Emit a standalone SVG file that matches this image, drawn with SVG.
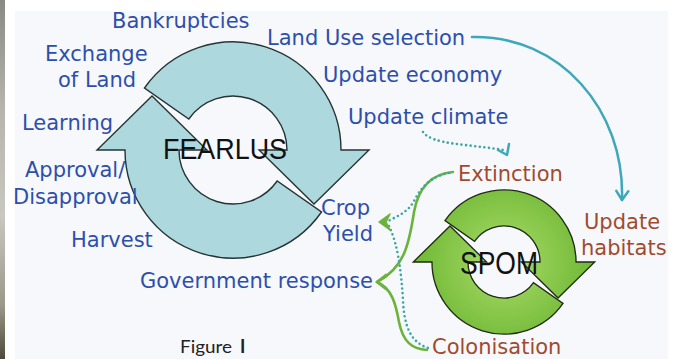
<svg xmlns="http://www.w3.org/2000/svg" width="683" height="359" viewBox="0 0 683 359">
  <style>
    .lbl{font-family:"DejaVu Sans","Liberation Sans",sans-serif;font-size:21px;fill:#2d4fac}
    .eco{font-family:"DejaVu Sans","Liberation Sans",sans-serif;font-size:21px;fill:#a04b2e}
    .core{font-family:"Liberation Sans",Arial,sans-serif;fill:#111}
    .cap{font-family:Lato,"Open Sans","Liberation Sans",sans-serif;font-size:18px;fill:#222}
    .fear{fill:#acd8de;stroke:#263333;stroke-width:1.4;stroke-linejoin:miter}
    .spom{fill:url(#spomFill);stroke:#1f2a12;stroke-width:2;stroke-linejoin:miter}
    .teal{fill:none;stroke:#3ea8ba;stroke-width:2.5;stroke-linecap:round;stroke-linejoin:round}
    .dots{fill:none;stroke:#3aa6a4;stroke-width:2.6;stroke-linecap:round;stroke-dasharray:0 4.6}
    .brace{fill:none;stroke:#6cb33e;stroke-width:2.6;stroke-linecap:round;stroke-linejoin:round}
  </style>
  <defs>
    <!-- half-ring arrows of a cycle, centred on 0,0, outer radius 108, inner 54 -->
    <path id="arcTop" d="M -88.5 -62 A 108 108 0 0 1 108 0 L 136 0 L 81 54 L 26 0 L 54 0 A 54 54 0 0 0 -44.2 -31 Z"/>
    <path id="arcBottom" d="M 88.5 62 A 108 108 0 0 1 -108 0 L -136 0 L -81 -54 L -26 0 L -54 0 A 54 54 0 0 0 44.2 31 Z"/>
    <radialGradient id="spomFill" gradientUnits="userSpaceOnUse" cx="0" cy="0" r="120">
      <stop offset="0" stop-color="#b6df7e"/>
      <stop offset="0.5" stop-color="#90cc52"/>
      <stop offset="1" stop-color="#76bc3b"/>
    </radialGradient>
    <linearGradient id="edge" x1="0" y1="0" x2="0" y2="1">
      <stop offset="0" stop-color="#8a8a85"/>
      <stop offset="0.3" stop-color="#b5b5ae"/>
      <stop offset="0.6" stop-color="#c8c8c0"/>
      <stop offset="0.85" stop-color="#9a9888"/>
      <stop offset="1" stop-color="#4e4a3a"/>
    </linearGradient>
    <marker id="vTeal" markerWidth="16" markerHeight="16" refX="11" refY="8" orient="auto" markerUnits="userSpaceOnUse">
      <path d="M 2 2 L 11 8 L 2 14" fill="none" stroke="#3ea8ba" stroke-width="2.5" stroke-linecap="round" stroke-linejoin="round"/>
    </marker>
  </defs>

  <!-- page -->
  <rect x="0" y="0" width="683" height="359" fill="#ffffff"/>
  <rect x="0" y="0" width="5" height="359" fill="url(#edge)"/>
  <rect x="15" y="11" width="653" height="348" fill="#f7f8fc"/>

  <!-- FEARLUS cycle -->
  <g id="fearlus">
    <g transform="translate(233 150)">
      <use href="#arcTop" class="fear"/>
      <use href="#arcBottom" class="fear"/>
    </g>
    <text class="core" x="163" y="159" font-size="30" textLength="124" lengthAdjust="spacingAndGlyphs">FEARLUS</text>
  </g>

  <!-- SPOM cycle -->
  <g id="spom">
    <g transform="translate(504 262) scale(0.667)">
      <use href="#arcTop" class="spom"/>
      <use href="#arcBottom" class="spom"/>
    </g>
    <text class="core" x="460" y="274" font-size="31" textLength="78" lengthAdjust="spacingAndGlyphs">SPOM</text>
  </g>

  <!-- connectors -->
  <g id="connectors">
    <path class="teal" d="M 472 37 C 560 35 625 110 622 200" marker-end="url(#vTeal)"/>
    <path class="dots" d="M 423 132 C 432 145 470 144 503 150"/>
    <path class="teal" d="M 509 144 L 507 155 L 498 150" stroke-width="2.4"/>
    <path class="brace" d="M 453 172 C 430 174 418 190 414 212 C 409 245 404 268 377 282"/>
    <path class="brace" d="M 377 282 C 392 288 396 305 399 322 C 403 342 412 349 427 350"/>
    <path class="brace" d="M 386 275 L 377 282 L 386 289" stroke-width="3"/>
    <path class="dots" d="M 449 173 C 428 177 420 190 414 201 C 408 212 398 216 388 221"/>
    <path class="dots" d="M 389 226 C 398 245 401 270 403 300 C 404 325 410 342 428 348"/>
    <path d="M 390 214 L 379 222 L 390 230 L 386 222 Z" fill="#6cb33e" stroke="#6cb33e" stroke-width="1.5" stroke-linejoin="round"/>
  </g>

  <!-- FEARLUS steps -->
  <g id="bankruptcies"><text class="lbl" x="112" y="28">Bankruptcies</text></g>
  <g id="exchange"><text class="lbl" x="45" y="61">Exchange</text><text class="lbl" x="58" y="87">of Land</text></g>
  <g id="learning"><text class="lbl" x="22" y="130">Learning</text></g>
  <g id="approval"><text class="lbl" x="25" y="177">Approval/</text><text class="lbl" x="13" y="204">Disapproval</text></g>
  <g id="harvest"><text class="lbl" x="71" y="247">Harvest</text></g>
  <g id="crop-yield"><text class="lbl" x="321" y="215">Crop</text><text class="lbl" x="323" y="241">Yield</text></g>
  <g id="government"><text class="lbl" x="140" y="288">Government response</text></g>
  <g id="land-use"><text class="lbl" x="267" y="45">Land Use selection</text></g>
  <g id="economy"><text class="lbl" x="323" y="82">Update economy</text></g>
  <g id="climate"><text class="lbl" x="348" y="124">Update climate</text></g>

  <!-- SPOM steps -->
  <g id="extinction"><text class="eco" x="458" y="181">Extinction</text></g>
  <g id="habitats"><text class="eco" x="584" y="229">Update</text><text class="eco" x="581" y="255">habitats</text></g>
  <g id="colonisation"><text class="eco" x="432" y="354">Colonisation</text></g>

  <!-- caption -->
  <g id="caption"><text class="cap" x="180" y="353"><tspan textLength="52" lengthAdjust="spacingAndGlyphs">Figure</tspan><tspan x="240" font-weight="bold">I</tspan></text></g>
</svg>
